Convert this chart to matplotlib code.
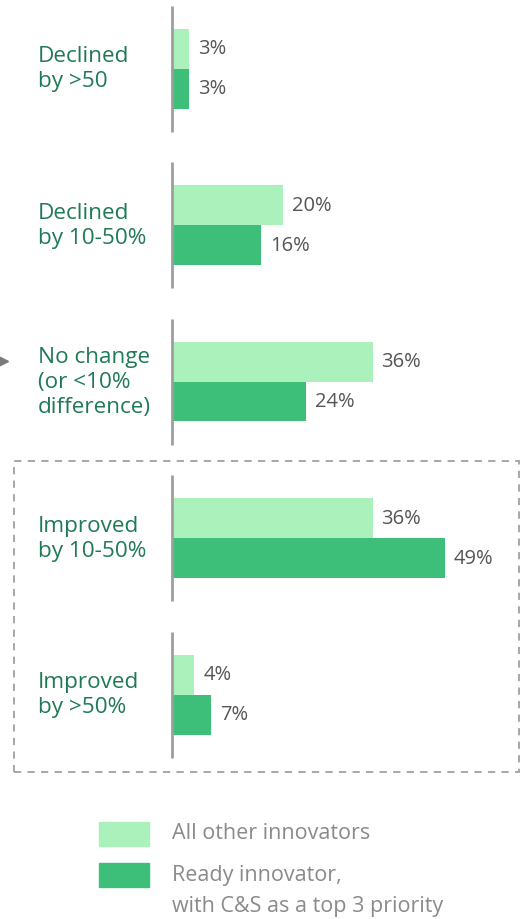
import matplotlib.pyplot as plt
from matplotlib.patches import Rectangle

# data
categories = ["Declined\nby >50", "Declined\nby 10-50%",
              "No change\n(or <10%\ndifference)",
              "Improved\nby 10-50%", "Improved\nby >50%"]
all_other = [3, 20, 36, 36, 4]
ready = [3, 16, 24, 49, 7]
series_names = ["All other innovators",
                "Ready innovator,\nwith C&S as a top 3 priority"]

LIGHT = "#abf1bb"
DARK = "#3dbf79"
LABEL_GREEN = "#1e7a55"
W, H = 528, 920
PX_PER_PCT = 5.57       # horizontal scale, pixels per percent
PX_PER_GROUP = 156.5    # vertical distance between groups
AXIS_X = 172            # pixel position of the zero line
FIRST = 69.5            # pixel y of the first group centre

plt.rcParams['font.family'] = ['Open Sans', 'DejaVu Sans']

fig = plt.figure(figsize=(W / 100, H / 100), dpi=100)
ax = fig.add_axes([0, 0, 1, 1])
ax.set_xlim(-AXIS_X / PX_PER_PCT, (W - AXIS_X) / PX_PER_PCT)
ax.set_ylim((H - FIRST) / PX_PER_GROUP, -FIRST / PX_PER_GROUP)
ax.axis("off")

bar_h = 40 / PX_PER_GROUP
pos = list(range(len(categories)))
ax.barh([p - bar_h / 2 for p in pos], all_other, height=bar_h,
        color=LIGHT, left=0, zorder=2)
ax.barh([p + bar_h / 2 for p in pos], ready, height=bar_h,
        color=DARK, left=0, zorder=2)

half = 63 / PX_PER_GROUP
for p in pos:
    ax.vlines(0, p - half, p + half, color="#9e9e9e", lw=2, zorder=3)

pad = 9 / PX_PER_PCT
for p, a, r in zip(pos, all_other, ready):
    ax.text(a + pad, p - bar_h / 2, f"{a}%", va="center", ha="left",
            fontsize=14.5, color="#555555")
    ax.text(r + pad, p + bar_h / 2, f"{r}%", va="center", ha="left",
            fontsize=14.5, color="#555555")

label_x = (38 - AXIS_X) / PX_PER_PCT
for p, c in zip(pos, categories):
    ax.text(label_x, p, c, va="center", ha="left", fontsize=16.2,
            color=LABEL_GREEN, linespacing=1.25)

# arrow pointing at the "No change" group
ax.plot([(3 - AXIS_X) / PX_PER_PCT], [2 - 21 / PX_PER_GROUP], marker=">",
        markersize=7, color="#7a7a7a", clip_on=False)

# dashed box around the "Improved" groups
fig.patches.append(Rectangle((14 / W, 1 - 773 / H), 505 / W, 311 / H,
                             transform=fig.transFigure, fill=False,
                             edgecolor="#a0a0a0", lw=1.3,
                             linestyle=(0, (4, 3.5))))

# legend
fig.patches.append(Rectangle((99 / W, 1 - 847 / H), 50 / W, 24 / H,
                             transform=fig.transFigure, color=LIGHT))
fig.patches.append(Rectangle((99 / W, 1 - 888 / H), 50 / W, 24 / H,
                             transform=fig.transFigure, color=DARK))
fig.text(172 / W, 1 - 834 / H, series_names[0], va="center", ha="left",
         fontsize=15.5, color="#8a8a8a")
for i, line in enumerate(series_names[1].split("\n")):
    fig.text(172 / W, 1 - (876 + 31 * i) / H, line, va="center", ha="left",
             fontsize=15.5, color="#8a8a8a")

fig.savefig("out.png", dpi=100)
